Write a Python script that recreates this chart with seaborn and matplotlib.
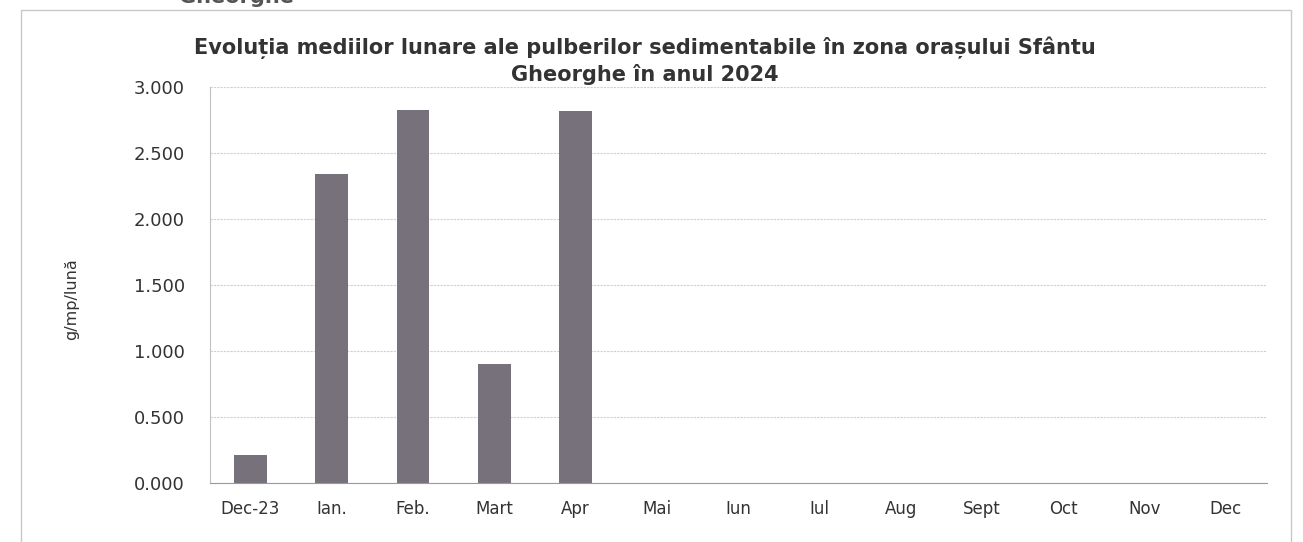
import matplotlib
matplotlib.use("Agg")
import matplotlib.pyplot as plt
import matplotlib.patches as mpatches
import numpy as np
import pandas as pd
import seaborn as sns

# date
LUNI = ["Dec-23", "Ian.", "Feb.", "Mart", "Apr", "Mai", "Iun",
        "Iul", "Aug", "Sept", "Oct", "Nov", "Dec"]
VALORI = [0.213, 2.34, 2.83, 0.905, 2.82,
          np.nan, np.nan, np.nan, np.nan, np.nan, np.nan, np.nan, np.nan]
Y_TICKS = [0.0, 0.5, 1.0, 1.5, 2.0, 2.5, 3.0]

TITLU = ("Evoluția mediilor lunare ale pulberilor sedimentabile în zona orașului Sfântu\n"
         "Gheorghe în anul 2024")
ETICHETA_Y = "g/mp/lună"

CULOARE_BARA = "#77717b"
CULOARE_TEXT = "#333333"

df = pd.DataFrame({"luna": LUNI, "valoare": VALORI})

sns.set_style("white")
plt.rcParams["font.family"] = ["DejaVu Sans"]

fig = plt.figure(figsize=(13.03, 5.42), dpi=100)
ax = fig.add_axes([0.161, 0.109, 0.811, 0.73])

sns.barplot(
    data=df,
    x="luna",
    y="valoare",
    order=LUNI,
    color=CULOARE_BARA,
    width=0.4,
    saturation=1,
    linewidth=0,
    ax=ax
)

ax.set_xlim(-0.5, len(LUNI) - 0.5)
ax.set_ylim(0, 3.0)
ax.set_yticks(Y_TICKS)
ax.set_yticklabels([f"{v:.3f}" for v in Y_TICKS], fontsize=13, color=CULOARE_TEXT)
ax.set_xticks(range(len(LUNI)))
ax.set_xticklabels(LUNI, fontsize=12, color=CULOARE_TEXT)
ax.tick_params(axis="both", length=0)
ax.tick_params(axis="x", pad=12)
ax.tick_params(axis="y", pad=18)

ax.yaxis.grid(True, color="#cfcfd8", linestyle=(0, (2, 1)), linewidth=0.8)
ax.set_axisbelow(True)

for s in ["top", "right"]:
    ax.spines[s].set_visible(False)
ax.spines["left"].set_color("#c0c0c0")
ax.spines["bottom"].set_color("#9a9a9a")

ax.set_xlabel("")
ax.set_ylabel(ETICHETA_Y, fontsize=11.5, color=CULOARE_TEXT)
ax.yaxis.set_label_coords(-0.124, 0.465)

fig.text(0.495, 0.843, TITLU, ha="center", va="bottom", fontsize=15,
         fontweight="bold", color=CULOARE_TEXT, linespacing=1.3)

# rama graficului si textul taiat din pagina scanata
fig.patches.append(mpatches.Rectangle(
    (0.016, -0.05), 0.975, 1.032, transform=fig.transFigure,
    fill=False, edgecolor="#c8c8c8", linewidth=1.0))
fig.text(0.137, 1.006, "Gheorghe", ha="left", va="center", fontsize=15,
         fontweight="bold", color="#555555")

fig.savefig("out.png", dpi=100, facecolor="white")
